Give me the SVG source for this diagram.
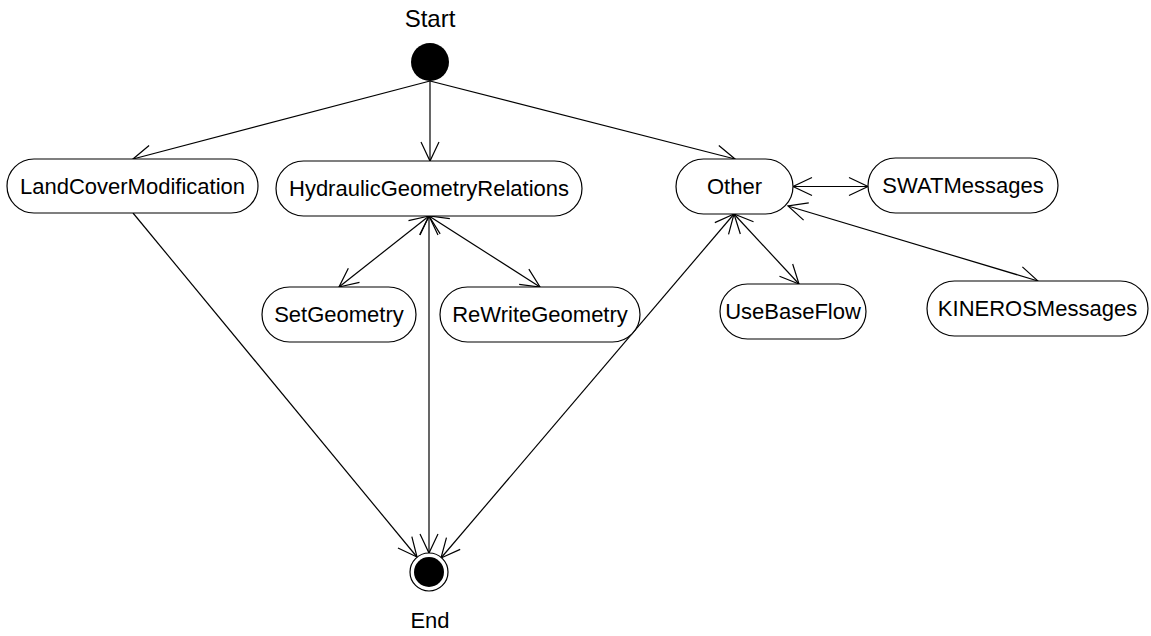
<svg xmlns="http://www.w3.org/2000/svg" width="1151" height="636" viewBox="0 0 1151 636">
<style>
.node rect{fill:#fff;stroke:#000;stroke-width:1.2}
text{font-family:"Liberation Sans",Arial,sans-serif;font-size:22px;fill:#000;text-anchor:middle}
.edge{stroke:#000;stroke-width:1.2;fill:none}
.one{marker-end:url(#arr)}
.two{marker-end:url(#arr);marker-start:url(#arrs)}
</style>
<defs>
<marker id="arr" markerUnits="userSpaceOnUse" viewBox="0 0 22 22" markerWidth="22" markerHeight="22" refX="20" refY="11" orient="auto" overflow="visible">
<path d="M1,2 L20,11 L1,20" fill="none" stroke="#000" stroke-width="1.2"/>
</marker>
<marker id="arrs" markerUnits="userSpaceOnUse" viewBox="0 0 22 22" markerWidth="22" markerHeight="22" refX="20" refY="11" orient="auto-start-reverse" overflow="visible">
<path d="M1,2 L20,11 L1,20" fill="none" stroke="#000" stroke-width="1.2"/>
</marker>
</defs>
<g id="connectors">
<line class="edge one" x1="430" y1="81" x2="133" y2="159"/>
<line class="edge one" x1="430" y1="81" x2="430" y2="161"/>
<line class="edge one" x1="430" y1="81" x2="735" y2="159"/>
<line class="edge one" x1="133" y1="213" x2="417" y2="557"/>
<line class="edge two" x1="429" y1="216" x2="429" y2="553"/>
<line class="edge two" x1="734" y1="214" x2="441" y2="558"/>
<line class="edge two" x1="429" y1="216" x2="339" y2="287"/>
<line class="edge two" x1="429" y1="216" x2="540" y2="287"/>
<line class="edge two" x1="793" y1="186.5" x2="868" y2="186.5"/>
<line class="edge two" x1="788" y1="206" x2="1038" y2="281"/>
<line class="edge two" x1="734" y1="214" x2="799" y2="284"/>
</g>
<g id="start">
<text x="430" y="27" style="font-size:24px">Start</text>
<circle cx="430" cy="62" r="19" fill="#000"/>
</g>
<g id="end">
<circle cx="429" cy="572" r="19" fill="#fff" stroke="#000" stroke-width="1.2"/>
<circle cx="429" cy="572" r="15" fill="#000"/>
<text x="430" y="628">End</text>
</g>
<g id="LandCoverModification" class="node">
<rect x="7" y="159" width="251" height="54" rx="27"/>
<text x="132.5" y="194">LandCoverModification</text>
</g>
<g id="HydraulicGeometryRelations" class="node">
<rect x="276" y="161" width="306" height="55" rx="27.5"/>
<text x="429" y="196">HydraulicGeometryRelations</text>
</g>
<g id="Other" class="node">
<rect x="676" y="159" width="117" height="55" rx="27.5"/>
<text x="734.5" y="194">Other</text>
</g>
<g id="SWATMessages" class="node">
<rect x="868" y="158" width="190" height="55" rx="27.5"/>
<text x="963" y="193">SWATMessages</text>
</g>
<g id="SetGeometry" class="node">
<rect x="262" y="287" width="154" height="55" rx="27.5"/>
<text x="339" y="322">SetGeometry</text>
</g>
<g id="ReWriteGeometry" class="node">
<rect x="440" y="287" width="200" height="55" rx="27.5"/>
<text x="540" y="322">ReWriteGeometry</text>
</g>
<g id="UseBaseFlow" class="node">
<rect x="720" y="284" width="146" height="55" rx="27.5"/>
<text x="793" y="319">UseBaseFlow</text>
</g>
<g id="KINEROSMessages" class="node">
<rect x="927" y="281" width="221" height="55" rx="27.5"/>
<text x="1037.5" y="316">KINEROSMessages</text>
</g>
</svg>
